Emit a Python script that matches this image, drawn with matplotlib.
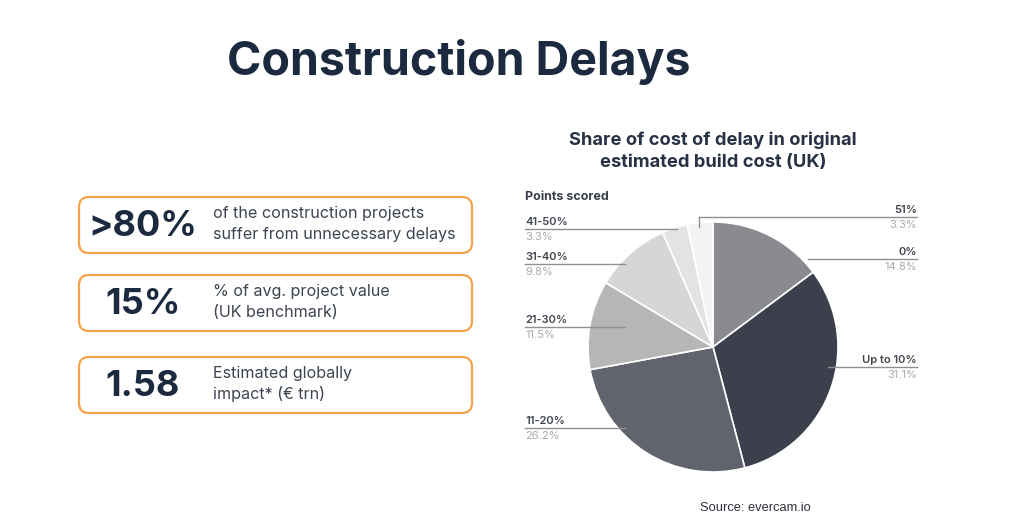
import matplotlib

matplotlib.use("Agg")
import matplotlib.pyplot as plt
from matplotlib.patches import FancyBboxPatch

# pie data (clockwise from 12 o'clock)
sliceLabels = ["0%", "Up to 10%", "11-20%", "21-30%", "31-40%", "41-50%", "51%"]
sliceValues = [14.8, 31.1, 26.2, 11.5, 9.8, 3.3, 3.3]
sliceColors = ["#8a8b8f", "#3b404c", "#61646c", "#b6b6b7", "#d6d6d6", "#e3e3e3", "#f3f3f3"]

# stat boxes
statValues = [">80%", "15%", "1.58"]
statTexts = [
    "of the construction projects\nsuffer from unnecessary delays",
    "% of avg. project value\n(UK benchmark)",
    "Estimated globally\nimpact* (€ trn)",
]

W, H = 1024, 532
fig = plt.figure(figsize=(W / 100, H / 100), dpi=100)
fig.patch.set_facecolor("white")

# pie axes: centre (713, 347), radius 125 px
cx, cy, r = 713, 347, 125
pieAx = fig.add_axes([(cx - r) / W, (H - cy - r) / H, 2 * r / W, 2 * r / H])
pieAx.pie(
    sliceValues,
    colors=sliceColors,
    startangle=90,
    counterclock=False,
    radius=1,
    wedgeprops=dict(edgecolor="white", linewidth=1.2),
)
pieAx.set_xlim(-1, 1)
pieAx.set_ylim(-1, 1)
pieAx.set_aspect("equal")
pieAx.axis("off")

# overlay in pixel coordinates
ax = fig.add_axes([0, 0, 1, 1], zorder=5)
ax.set_xlim(0, W)
ax.set_ylim(H, 0)
ax.axis("off")
ax.patch.set_alpha(0)

navy = "#1c2a3f"
ax.text(459, 62, "Construction Delays", ha="center", va="center",
        fontsize=33.5, fontweight="bold", color=navy, family="Inter")

# stat boxes
boxTops = [197, 275, 357]
boxH = 56
for top, val, txt in zip(boxTops, statValues, statTexts):
    box = FancyBboxPatch((79, top), 393, boxH,
                         boxstyle="round,pad=0,rounding_size=10",
                         facecolor="white", edgecolor="#f5a24c", linewidth=1.6)
    ax.add_patch(box)
    ax.text(143, top + boxH / 2 + 1, val, ha="center", va="center",
            fontsize=26, fontweight="bold", color=navy, family="Inter")
    ax.text(213, top + boxH / 2 - 1, txt, ha="left", va="center",
            fontsize=11.6, color="#3d4552", family="Inter", linespacing=1.45)

# pie title
ax.text(713, 151, "Share of cost of delay in original\nestimated build cost (UK)",
        ha="center", va="center", fontsize=13.2, fontweight="bold",
        color="#283244", family="Inter", linespacing=1.35)
ax.text(525, 197, "Points scored", ha="left", va="center", fontsize=9,
        fontweight="bold", color="#3a3f48", family="Inter")

# label layout: (line y, line x start, line x end, text x, alignment)
labelLayout = {
    "51%": (217, 699, 917, 917, "right"),
    "0%": (259, 808, 917, 917, "right"),
    "Up to 10%": (367, 828, 917, 917, "right"),
    "11-20%": (428, 525, 625, 525, "left"),
    "21-30%": (327, 525, 625, 525, "left"),
    "31-40%": (264, 525, 625, 525, "left"),
    "41-50%": (229, 525, 677, 525, "left"),
}
lineColor = "#8f9092"
for lab, val in zip(sliceLabels, sliceValues):
    ly, x0, x1, tx, ha = labelLayout[lab]
    ax.plot([x0, x1], [ly, ly], color=lineColor, lw=1)
    if lab == "51%":
        ax.plot([x0, x0], [ly, ly + 10], color=lineColor, lw=1)
    ax.text(tx, ly - 7, lab, ha=ha, va="center", fontsize=8,
            color="#40454e", family="Inter", fontweight="semibold")
    ax.text(tx, ly + 8, f"{val:.1f}%", ha=ha, va="center", fontsize=8,
            color="#a9aaad", family="Inter")

ax.text(700, 508, "Source: evercam.io", ha="left", va="center", fontsize=9.3,
        color="#2e323a", family="Liberation Sans")

fig.savefig("out.png", dpi=100, facecolor="white")
